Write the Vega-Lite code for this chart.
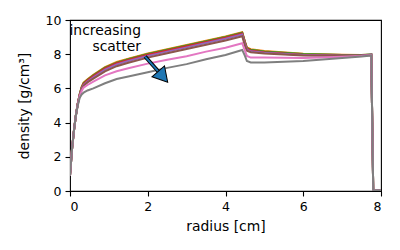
{
  "$schema": "https://vega.github.io/schema/vega-lite/v6.json",
  "autosize": {"type": "none"},
  "width": 311,
  "height": 171,
  "padding": {"left": 70, "top": 20, "right": 19, "bottom": 59},
  "background": "white",
  "config": {
    "font": "DejaVu Sans",
    "view": {"stroke": "black", "strokeWidth": 1.1},
    "axis": {
      "grid": false,
      "domain": false,
      "tickColor": "black",
      "tickSize": 5,
      "tickWidth": 1.1,
      "labelColor": "black",
      "labelFont": "DejaVu Sans",
      "labelFontSize": 12.5,
      "labelPadding": 4,
      "titleColor": "black",
      "titleFont": "DejaVu Sans",
      "titleFontSize": 13.9,
      "titleFontWeight": "normal"
    }
  },
  "datasets": {
    "profiles": [
      {"s":"s1","x":0,"y":0.9},{"s":"s1","x":0.05,"y":2.4},{"s":"s1","x":0.1,"y":3.5},{"s":"s1","x":0.15,"y":4.4},{"s":"s1","x":0.2,"y":5.1},{"s":"s1","x":0.25,"y":5.65},{"s":"s1","x":0.3,"y":6.05},{"s":"s1","x":0.35,"y":6.3},{"s":"s1","x":0.45,"y":6.5},{"s":"s1","x":0.6,"y":6.75},{"s":"s1","x":0.9,"y":7.2},{"s":"s1","x":1.2,"y":7.5},{"s":"s1","x":1.5,"y":7.7},{"s":"s1","x":2.0,"y":8.0},{"s":"s1","x":2.5,"y":8.25},{"s":"s1","x":3.0,"y":8.5},{"s":"s1","x":3.5,"y":8.75},{"s":"s1","x":4.0,"y":9.0},{"s":"s1","x":4.43,"y":9.25},{"s":"s1","x":4.5,"y":8.7},{"s":"s1","x":4.55,"y":8.35},{"s":"s1","x":4.65,"y":8.25},{"s":"s1","x":5.0,"y":8.15},{"s":"s1","x":6.0,"y":8.0},{"s":"s1","x":7.0,"y":7.95},{"s":"s1","x":7.5,"y":7.94},{"s":"s1","x":7.75,"y":7.98},{"s":"s1","x":7.8,"y":0.05},{"s":"s1","x":8.0,"y":0.05},
      {"s":"s2","x":0,"y":0.9},{"s":"s2","x":0.05,"y":2.4},{"s":"s2","x":0.1,"y":3.5},{"s":"s2","x":0.15,"y":4.4},{"s":"s2","x":0.2,"y":5.1},{"s":"s2","x":0.25,"y":5.67},{"s":"s2","x":0.3,"y":6.09},{"s":"s2","x":0.35,"y":6.34},{"s":"s2","x":0.45,"y":6.54},{"s":"s2","x":0.6,"y":6.79},{"s":"s2","x":0.9,"y":7.24},{"s":"s2","x":1.2,"y":7.54},{"s":"s2","x":1.5,"y":7.74},{"s":"s2","x":2.0,"y":8.04},{"s":"s2","x":2.5,"y":8.29},{"s":"s2","x":3.0,"y":8.54},{"s":"s2","x":3.5,"y":8.79},{"s":"s2","x":4.0,"y":9.04},{"s":"s2","x":4.43,"y":9.29},{"s":"s2","x":4.5,"y":8.74},{"s":"s2","x":4.55,"y":8.39},{"s":"s2","x":4.65,"y":8.29},{"s":"s2","x":5.0,"y":8.19},{"s":"s2","x":6.0,"y":8.03},{"s":"s2","x":7.0,"y":7.97},{"s":"s2","x":7.5,"y":7.95},{"s":"s2","x":7.75,"y":7.98},{"s":"s2","x":7.8,"y":0.05},{"s":"s2","x":8.0,"y":0.05},
      {"s":"s3","x":0,"y":0.9},{"s":"s3","x":0.05,"y":2.4},{"s":"s3","x":0.1,"y":3.5},{"s":"s3","x":0.15,"y":4.4},{"s":"s3","x":0.2,"y":5.1},{"s":"s3","x":0.25,"y":5.66},{"s":"s3","x":0.3,"y":6.06},{"s":"s3","x":0.35,"y":6.31},{"s":"s3","x":0.45,"y":6.51},{"s":"s3","x":0.6,"y":6.76},{"s":"s3","x":0.9,"y":7.21},{"s":"s3","x":1.2,"y":7.51},{"s":"s3","x":1.5,"y":7.71},{"s":"s3","x":2.0,"y":8.01},{"s":"s3","x":2.5,"y":8.26},{"s":"s3","x":3.0,"y":8.51},{"s":"s3","x":3.5,"y":8.76},{"s":"s3","x":4.0,"y":9.01},{"s":"s3","x":4.43,"y":9.26},{"s":"s3","x":4.5,"y":8.71},{"s":"s3","x":4.55,"y":8.36},{"s":"s3","x":4.65,"y":8.26},{"s":"s3","x":5.0,"y":8.16},{"s":"s3","x":6.0,"y":8.01},{"s":"s3","x":7.0,"y":7.96},{"s":"s3","x":7.5,"y":7.95},{"s":"s3","x":7.75,"y":7.98},{"s":"s3","x":7.8,"y":0.05},{"s":"s3","x":8.0,"y":0.05},
      {"s":"s4","x":0,"y":0.9},{"s":"s4","x":0.05,"y":2.4},{"s":"s4","x":0.1,"y":3.5},{"s":"s4","x":0.15,"y":4.4},{"s":"s4","x":0.2,"y":5.1},{"s":"s4","x":0.25,"y":5.63},{"s":"s4","x":0.3,"y":6.02},{"s":"s4","x":0.35,"y":6.27},{"s":"s4","x":0.45,"y":6.47},{"s":"s4","x":0.6,"y":6.72},{"s":"s4","x":0.9,"y":7.17},{"s":"s4","x":1.2,"y":7.47},{"s":"s4","x":1.5,"y":7.67},{"s":"s4","x":2.0,"y":7.97},{"s":"s4","x":2.5,"y":8.22},{"s":"s4","x":3.0,"y":8.47},{"s":"s4","x":3.5,"y":8.72},{"s":"s4","x":4.0,"y":8.97},{"s":"s4","x":4.43,"y":9.22},{"s":"s4","x":4.5,"y":8.67},{"s":"s4","x":4.55,"y":8.32},{"s":"s4","x":4.65,"y":8.22},{"s":"s4","x":5.0,"y":8.12},{"s":"s4","x":6.0,"y":7.97},{"s":"s4","x":7.0,"y":7.93},{"s":"s4","x":7.5,"y":7.93},{"s":"s4","x":7.75,"y":7.97},{"s":"s4","x":7.8,"y":0.05},{"s":"s4","x":8.0,"y":0.05},
      {"s":"s5","x":0,"y":0.9},{"s":"s5","x":0.05,"y":2.4},{"s":"s5","x":0.1,"y":3.5},{"s":"s5","x":0.15,"y":4.4},{"s":"s5","x":0.2,"y":5.1},{"s":"s5","x":0.25,"y":5.6},{"s":"s5","x":0.3,"y":5.97},{"s":"s5","x":0.35,"y":6.2},{"s":"s5","x":0.45,"y":6.4},{"s":"s5","x":0.6,"y":6.65},{"s":"s5","x":0.9,"y":7.1},{"s":"s5","x":1.2,"y":7.4},{"s":"s5","x":1.5,"y":7.6},{"s":"s5","x":2.0,"y":7.9},{"s":"s5","x":2.5,"y":8.15},{"s":"s5","x":3.0,"y":8.4},{"s":"s5","x":3.5,"y":8.65},{"s":"s5","x":4.0,"y":8.9},{"s":"s5","x":4.43,"y":9.15},{"s":"s5","x":4.5,"y":8.6},{"s":"s5","x":4.55,"y":8.27},{"s":"s5","x":4.65,"y":8.17},{"s":"s5","x":5.0,"y":8.08},{"s":"s5","x":6.0,"y":7.95},{"s":"s5","x":7.0,"y":7.91},{"s":"s5","x":7.5,"y":7.92},{"s":"s5","x":7.75,"y":7.97},{"s":"s5","x":7.8,"y":0.05},{"s":"s5","x":8.0,"y":0.05},
      {"s":"s6","x":0,"y":0.9},{"s":"s6","x":0.05,"y":2.4},{"s":"s6","x":0.1,"y":3.5},{"s":"s6","x":0.15,"y":4.4},{"s":"s6","x":0.2,"y":5.1},{"s":"s6","x":0.25,"y":5.58},{"s":"s6","x":0.3,"y":5.92},{"s":"s6","x":0.35,"y":6.15},{"s":"s6","x":0.45,"y":6.35},{"s":"s6","x":0.6,"y":6.57},{"s":"s6","x":0.9,"y":7.0},{"s":"s6","x":1.2,"y":7.3},{"s":"s6","x":1.5,"y":7.5},{"s":"s6","x":2.0,"y":7.8},{"s":"s6","x":2.5,"y":8.05},{"s":"s6","x":3.0,"y":8.3},{"s":"s6","x":3.5,"y":8.55},{"s":"s6","x":4.0,"y":8.8},{"s":"s6","x":4.43,"y":9.05},{"s":"s6","x":4.5,"y":8.5},{"s":"s6","x":4.55,"y":8.2},{"s":"s6","x":4.65,"y":8.12},{"s":"s6","x":5.0,"y":8.04},{"s":"s6","x":6.0,"y":7.92},{"s":"s6","x":7.0,"y":7.9},{"s":"s6","x":7.5,"y":7.91},{"s":"s6","x":7.75,"y":7.96},{"s":"s6","x":7.8,"y":0.05},{"s":"s6","x":8.0,"y":0.05},
      {"s":"s7","x":0,"y":0.9},{"s":"s7","x":0.05,"y":2.4},{"s":"s7","x":0.1,"y":3.5},{"s":"s7","x":0.15,"y":4.4},{"s":"s7","x":0.2,"y":5.05},{"s":"s7","x":0.25,"y":5.55},{"s":"s7","x":0.3,"y":5.85},{"s":"s7","x":0.35,"y":6.05},{"s":"s7","x":0.45,"y":6.2},{"s":"s7","x":0.6,"y":6.4},{"s":"s7","x":0.9,"y":6.76},{"s":"s7","x":1.2,"y":7.0},{"s":"s7","x":1.5,"y":7.18},{"s":"s7","x":2.0,"y":7.45},{"s":"s7","x":2.5,"y":7.67},{"s":"s7","x":3.0,"y":7.88},{"s":"s7","x":3.5,"y":8.15},{"s":"s7","x":4.0,"y":8.38},{"s":"s7","x":4.43,"y":8.64},{"s":"s7","x":4.5,"y":8.2},{"s":"s7","x":4.55,"y":7.9},{"s":"s7","x":4.65,"y":7.8},{"s":"s7","x":5.0,"y":7.8},{"s":"s7","x":6.0,"y":7.78},{"s":"s7","x":7.0,"y":7.85},{"s":"s7","x":7.5,"y":7.89},{"s":"s7","x":7.75,"y":7.95},{"s":"s7","x":7.8,"y":0.05},{"s":"s7","x":8.0,"y":0.05},
      {"s":"s8","x":0,"y":0.9},{"s":"s8","x":0.05,"y":2.4},{"s":"s8","x":0.1,"y":3.5},{"s":"s8","x":0.15,"y":4.4},{"s":"s8","x":0.2,"y":5.0},{"s":"s8","x":0.25,"y":5.45},{"s":"s8","x":0.3,"y":5.65},{"s":"s8","x":0.35,"y":5.75},{"s":"s8","x":0.45,"y":5.88},{"s":"s8","x":0.6,"y":6.0},{"s":"s8","x":0.9,"y":6.3},{"s":"s8","x":1.2,"y":6.55},{"s":"s8","x":1.5,"y":6.7},{"s":"s8","x":2.0,"y":6.95},{"s":"s8","x":2.5,"y":7.2},{"s":"s8","x":3.0,"y":7.42},{"s":"s8","x":3.5,"y":7.7},{"s":"s8","x":4.0,"y":7.95},{"s":"s8","x":4.43,"y":8.25},{"s":"s8","x":4.5,"y":7.9},{"s":"s8","x":4.55,"y":7.6},{"s":"s8","x":4.65,"y":7.52},{"s":"s8","x":5.0,"y":7.52},{"s":"s8","x":6.0,"y":7.6},{"s":"s8","x":7.0,"y":7.78},{"s":"s8","x":7.5,"y":7.86},{"s":"s8","x":7.75,"y":7.93},{"s":"s8","x":7.8,"y":0.05},{"s":"s8","x":8.0,"y":0.05}
    ],
    "shaft": [{"x": 1.933, "y": 7.86}, {"x": 2.269, "y": 7.0}],
    "head": [{"x": 2.391, "y": 6.68}],
    "labels": [{"x": 1.825, "y": 9.13, "t": "increasing"}, {"x": 1.825, "y": 8.21, "t": "scatter"}]
  },
  "encoding": {
    "x": {"field": "x", "type": "quantitative", "scale": {"domain": [0, 8], "nice": false, "zero": false}, "axis": {"values": [0, 2, 4, 6, 8], "title": "radius [cm]", "titlePadding": 7}},
    "y": {"field": "y", "type": "quantitative", "scale": {"domain": [0, 10], "nice": false, "zero": false}, "axis": {"values": [0, 2, 4, 6, 8, 10], "title": "density [g/cm³]", "titlePadding": 14}}
  },
  "layer": [
    {
      "data": {"name": "profiles"},
      "mark": {"type": "line", "strokeWidth": 2, "clip": true},
      "encoding": {
        "color": {"field": "s", "type": "nominal", "legend": null, "scale": {"domain": ["s1","s2","s3","s4","s5","s6","s7","s8"], "range": ["#1f77b4","#ff7f0e","#2ca02c","#d62728","#9467bd","#8c564b","#e377c2","#7f7f7f"]}}
      }
    },
    {
      "data": {"name": "shaft"},
      "mark": {"type": "line", "color": "black", "strokeWidth": 3.8, "strokeCap": "butt"},
      "encoding": {}
    },
    {
      "data": {"name": "shaft"},
      "mark": {"type": "line", "color": "#1f77b4", "strokeWidth": 1.8, "strokeCap": "butt"},
      "encoding": {}
    },
    {
      "data": {"name": "head"},
      "mark": {"type": "point", "shape": "triangle-up", "size": 275, "angle": 139, "filled": true, "fill": "#1f77b4", "stroke": "black", "strokeWidth": 1, "opacity": 1},
      "encoding": {}
    },
    {
      "data": {"name": "labels"},
      "mark": {"type": "text", "align": "right", "baseline": "alphabetic", "font": "DejaVu Sans", "fontSize": 13.9, "color": "black"},
      "encoding": {"text": {"field": "t", "type": "nominal"}}
    }
  ]
}
